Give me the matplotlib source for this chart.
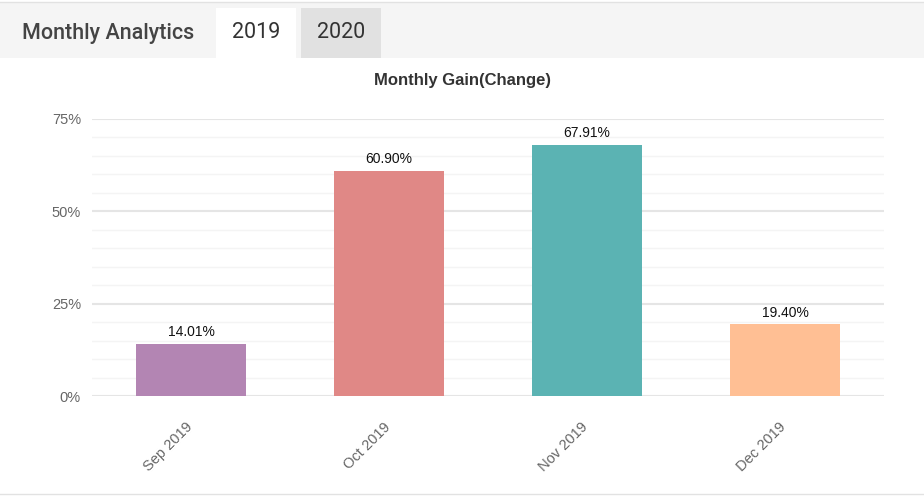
import matplotlib
matplotlib.use("Agg")
import matplotlib.pyplot as plt
from matplotlib.patches import Rectangle
from matplotlib.ticker import MultipleLocator, FuncFormatter
from matplotlib.transforms import ScaledTranslation

categories = ["Sep 2019", "Oct 2019", "Nov 2019", "Dec 2019"]
gains = [14.01, 60.90, 67.91, 19.40]
colors = ["#b385b3", "#e08886", "#5bb3b3", "#ffbf94"]
tabs = ["2019", "2020"]

plt.rcParams["font.family"] = ["Liberation Sans", "DejaVu Sans"]

fig = plt.figure(figsize=(9.24, 4.97), dpi=100)
W, H = 924, 497

def fx(x):
    return x / W
def fy(y):
    return 1 - y / H

# header band
fig.patches.append(Rectangle((0, fy(58)), 1, fy(2) - fy(58), transform=fig.transFigure,
                             facecolor="#f5f5f5", edgecolor="none", zorder=0))
fig.add_artist(plt.Line2D([0, 1], [fy(1.5), fy(1.5)], transform=fig.transFigure, color="#e2e2e2", lw=1))
fig.patches.append(Rectangle((fx(216), fy(58)), fx(296) - fx(216), fy(8) - fy(58), transform=fig.transFigure,
                             facecolor="white", edgecolor="none", zorder=1))
fig.patches.append(Rectangle((fx(301), fy(58)), fx(381) - fx(301), fy(8) - fy(58), transform=fig.transFigure,
                             facecolor="#e1e1e1", edgecolor="none", zorder=1))
fig.text(fx(22), fy(33), "Monthly Analytics", family="Roboto", fontsize=15.5, color="#444444",
         va="center", ha="left", fontweight="medium")
fig.text(fx(256), fy(33), tabs[0], family="Roboto", fontsize=15.5, color="#333333", va="center", ha="center")
fig.text(fx(341), fy(33), tabs[1], family="Roboto", fontsize=15.5, color="#333333", va="center", ha="center")
fig.add_artist(plt.Line2D([0, 1], [fy(494), fy(494)], transform=fig.transFigure, color="#e2e2e2", lw=1))

fig.text(0.5, fy(80), "Monthly Gain(Change)", fontsize=12, fontweight="bold", color="#333333",
         ha="center", va="center")

ax = fig.add_axes([fx(92), fy(396), fx(884) - fx(92), fy(119) - fy(396)])
x = list(range(len(categories)))
bars = ax.bar(x, gains, width=0.555, color=colors, zorder=3)
for xi, v in zip(x, gains):
    ax.text(xi, v + 1.3, f"{v:.2f}%", ha="center", va="bottom", fontsize=10, color="#111111", zorder=4)

ax.set_xlim(-0.5, len(categories) - 0.5)
ax.set_ylim(0, 75)
ax.yaxis.set_major_locator(MultipleLocator(25))
ax.yaxis.set_minor_locator(MultipleLocator(5))
ax.yaxis.set_major_formatter(FuncFormatter(lambda v, p: f"{v:.0f}%"))
ax.grid(True, which="major", axis="y", color="#e5e5e5", lw=1.5, zorder=0)
ax.grid(True, which="minor", axis="y", color="#f4f4f4", lw=1, zorder=0)
ax.set_xticks(x)
ax.set_xticklabels(categories, rotation=45, ha="right", va="center", rotation_mode="anchor")
ax.tick_params(axis="both", which="both", length=0, colors="#666666", labelsize=10.5)
ax.tick_params(axis="x", pad=21)
ax.tick_params(axis="y", pad=8)
off = ScaledTranslation(-1 / 100, 0, fig.dpi_scale_trans)
for lbl in ax.get_xticklabels():
    lbl.set_transform(lbl.get_transform() + off)
for s in ax.spines.values():
    s.set_visible(False)

fig.savefig("out.png", dpi=100)
